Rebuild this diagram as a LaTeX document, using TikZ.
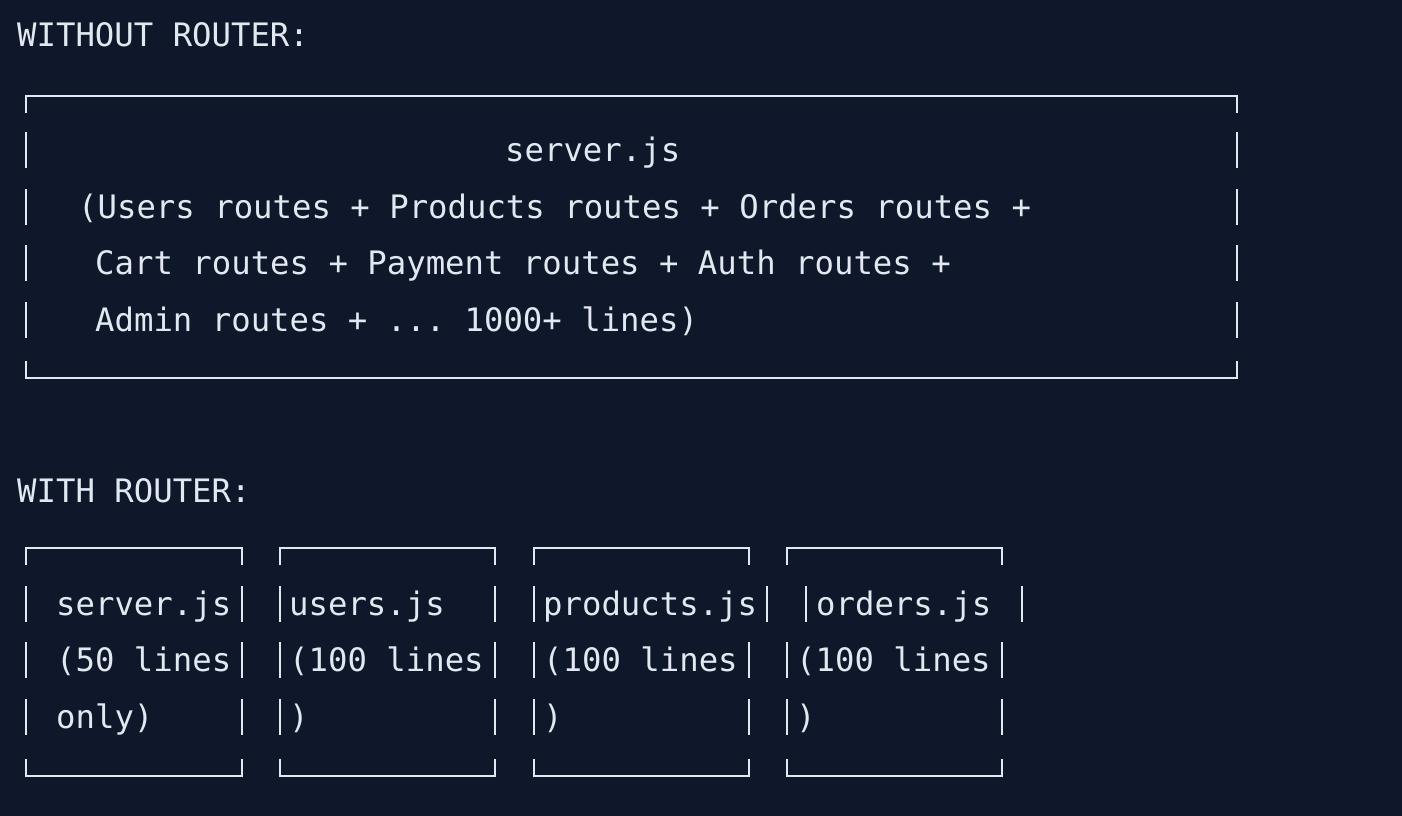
\documentclass[tikz,border=0pt]{standalone}
\usepackage{fontspec}
\setmonofont{DejaVu Sans Mono}
\definecolor{bg}{HTML}{0F172A}
\definecolor{fg}{HTML}{E2E8F0}
\begin{document}
\begin{tikzpicture}[x=1pt,y=-1pt,
  txt/.style={anchor=base west,inner sep=0pt,text=fg,font=\ttfamily\fontsize{32.3}{32}\selectfont},
  ln/.style={draw=fg,line width=2.5pt}]
\fill[bg] (0,0) rectangle (1402,816);
\useasboundingbox (0,0) rectangle (1402,816);
\newcommand\vb[2]{\draw[ln] (#1,#2-18) -- (#1,#2+18);}
\newcommand\boxx[4]{% left right top bottom
  \draw[ln] (#1,#3+17) -- (#1,#3) -- (#2,#3) -- (#2,#3+17);
  \draw[ln] (#1,#4-17) -- (#1,#4) -- (#2,#4) -- (#2,#4-17);}
\node[txt] (t1) at (17,47) {WITHOUT ROUTER:};
\boxx{26}{1237}{96}{378}
\foreach \y in {150,207,263,320}{\vb{26}{\y}\vb{1237}{\y}}
\node[txt] (s) at (505,161) {server.js};
\node[txt] (l1) at (78,218) {(Users routes + Products routes + Orders routes +};
\node[txt] (l2) at (95,274) {Cart routes + Payment routes + Auth routes +};
\node[txt] (l3) at (95,331) {Admin routes + ... 1000+ lines)};
\node[txt] (t2) at (17,502) {WITH ROUTER:};
\boxx{26}{242}{548}{776}
\boxx{280}{495}{548}{776}
\boxx{534}{749}{548}{776}
\boxx{787}{1002}{548}{776}
\foreach \y in {604,660,717}{\vb{26}{\y}\vb{242}{\y}\vb{280}{\y}\vb{495}{\y}\vb{534}{\y}}
\vb{767}{604}\vb{749}{660}\vb{749}{717}
\vb{806}{604}\vb{1022}{604}
\foreach \y in {660,717}{\vb{787}{\y}\vb{1002}{\y}}
\node[txt] (a1) at (56,615) {server.js};
\node[txt] (a2) at (56,671) {(50 lines};
\node[txt] (a3) at (56,728) {only)};
\node[txt] (b1) at (289,615) {users.js};
\node[txt] (b2) at (289,671) {(100 lines};
\node[txt] (b3) at (289,728) {)};
\node[txt] (c1) at (543,615) {products.js};
\node[txt] (c2) at (543,671) {(100 lines};
\node[txt] (c3) at (543,728) {)};
\node[txt] (d1) at (816,615) {orders.js};
\node[txt] (d2) at (796,671) {(100 lines};
\node[txt] (d3) at (796,728) {)};
\end{tikzpicture}
\end{document}
